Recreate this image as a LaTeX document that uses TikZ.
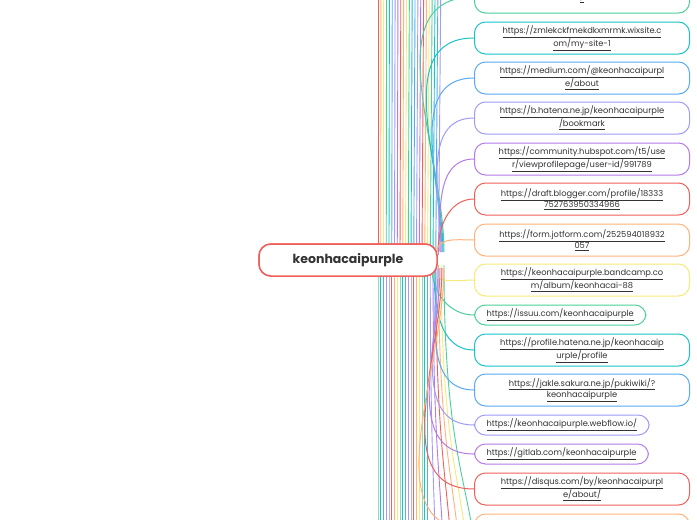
\documentclass[tikz,border=0pt]{standalone}
\usepackage{fontspec}
\setmainfont{Poppins}
\definecolor{col0}{HTML}{F0605A}
\definecolor{col1}{HTML}{FFB37A}
\definecolor{col2}{HTML}{F5EA7A}
\definecolor{col3}{HTML}{4CCF9A}
\definecolor{col4}{HTML}{19C3C9}
\definecolor{col5}{HTML}{59AAF5}
\definecolor{col6}{HTML}{A09BF5}
\definecolor{col7}{HTML}{B57BE8}
\begin{document}
\begin{tikzpicture}[x=1pt,y=-1pt,
  child/.style={draw=#1,line width=1pt,rounded corners=11pt,fill=white,font=\fontsize{8.3}{11.5}\selectfont,text=black!80,align=center,inner sep=2pt},
  two/.style={minimum width=215pt,minimum height=32pt,anchor=west},
  one/.style={minimum height=20pt,anchor=west,inner xsep=12pt},
  link/.style={draw=#1,line width=1pt},
  centre/.style={draw=col0,line width=1.5pt,rounded corners=12pt,fill=white,minimum width=178pt,minimum height=32pt,font=\bfseries\fontsize{12.5}{14}\selectfont,text=black!80}]
\useasboundingbox (0,0) rectangle (697,520);
\fill[white] (0,0) rectangle (697,520);
% off-screen branches
\foreach \i in {0,...,22}{
  \pgfmathtruncatemacro\k{mod(\i,8)}
  \pgfmathsetmacro\xx{378+\i*2.75}
  \draw[col\k,line width=0.9pt] (\xx,255) -- (\xx+\i*0.1,-2);
}
\foreach \i in {0,...,24}{
  \pgfmathtruncatemacro\k{mod(\i+3,8)}
  \pgfmathsetmacro\xx{378+\i*2.75}
  \pgfmathsetmacro\dd{\i>18 ? (\i-18)*3 : 0}
  \draw[col\k,line width=0.9pt] (\xx,265) .. controls (\xx,420) and (\xx+\dd,470) .. (\xx+\dd*1.5,522);
}
\node[centre] (c) at (348,260) {keonhacaipurple};
% children
\node[child=col3,two] (n0) at (474,-3) {\underline{/}};
\node[child=col4,two] (n1) at (474,38) {\underline{https://zmlekckfmekdkxmrmk.wixsite.c}\\\underline{om/my-site-1}};
\node[child=col5,two] (n2) at (474,78) {\underline{https://medium.com/@keonhacaipurpl}\\\underline{e/about}};
\node[child=col6,two] (n3) at (474,118) {\underline{https://b.hatena.ne.jp/keonhacaipurple}\\\underline{/bookmark}};
\node[child=col7,two] (n4) at (474,159) {\underline{https://community.hubspot.com/t5/use}\\\underline{r/viewprofilepage/user-id/991789}};
\node[child=col0,two] (n5) at (474,199) {\underline{https://draft.blogger.com/profile/18333}\\\underline{752763950334966}};
\node[child=col1,two] (n6) at (474,240) {\underline{https://form.jotform.com/252594018932}\\\underline{057}};
\node[child=col2,two] (n7) at (474,280) {\underline{https://keonhacaipurple.bandcamp.co}\\\underline{m/album/keonhacai-88}};
\node[child=col3,one] (n8) at (474,315) {\underline{https://issuu.com/keonhacaipurple}};
\node[child=col4,two] (n9) at (474,350) {\underline{https://profile.hatena.ne.jp/keonhacaip}\\\underline{urple/profile}};
\node[child=col5,two] (n10) at (474,390) {\underline{https://jakle.sakura.ne.jp/pukiwiki/?}\\\underline{keonhacaipurple}};
\node[child=col6,one] (n11) at (474,425) {\underline{https://keonhacaipurple.webflow.io/}};
\node[child=col7,one] (n12) at (474,454) {\underline{https://gitlab.com/keonhacaipurple}};
\node[child=col0,two] (n13) at (474,489) {\underline{https://disqus.com/by/keonhacaipurpl}\\\underline{e/about/}};
\node[child=col1,two] (n14) at (474,530) {};
% connectors
\foreach \n/\k/\sx in {n0/3/444,n1/4/443,n2/5/442,n3/6/441,n4/7/440,n5/0/438,n6/1/437}{
  \draw[link=col\k] (\sx,252) to[out=90,in=180] (\n.west);
}
\foreach \n/\k/\sx in {n7/2/432,n8/3/432,n9/4/434,n10/5/436,n11/6/438,n12/7/440,n13/0/442,n14/1/444}{
  \draw[link=col\k] (\sx,268) to[out=-90,in=180] (\n.west);
}
\node[centre] at (348,260) {keonhacaipurple};
\end{tikzpicture}
\end{document}
